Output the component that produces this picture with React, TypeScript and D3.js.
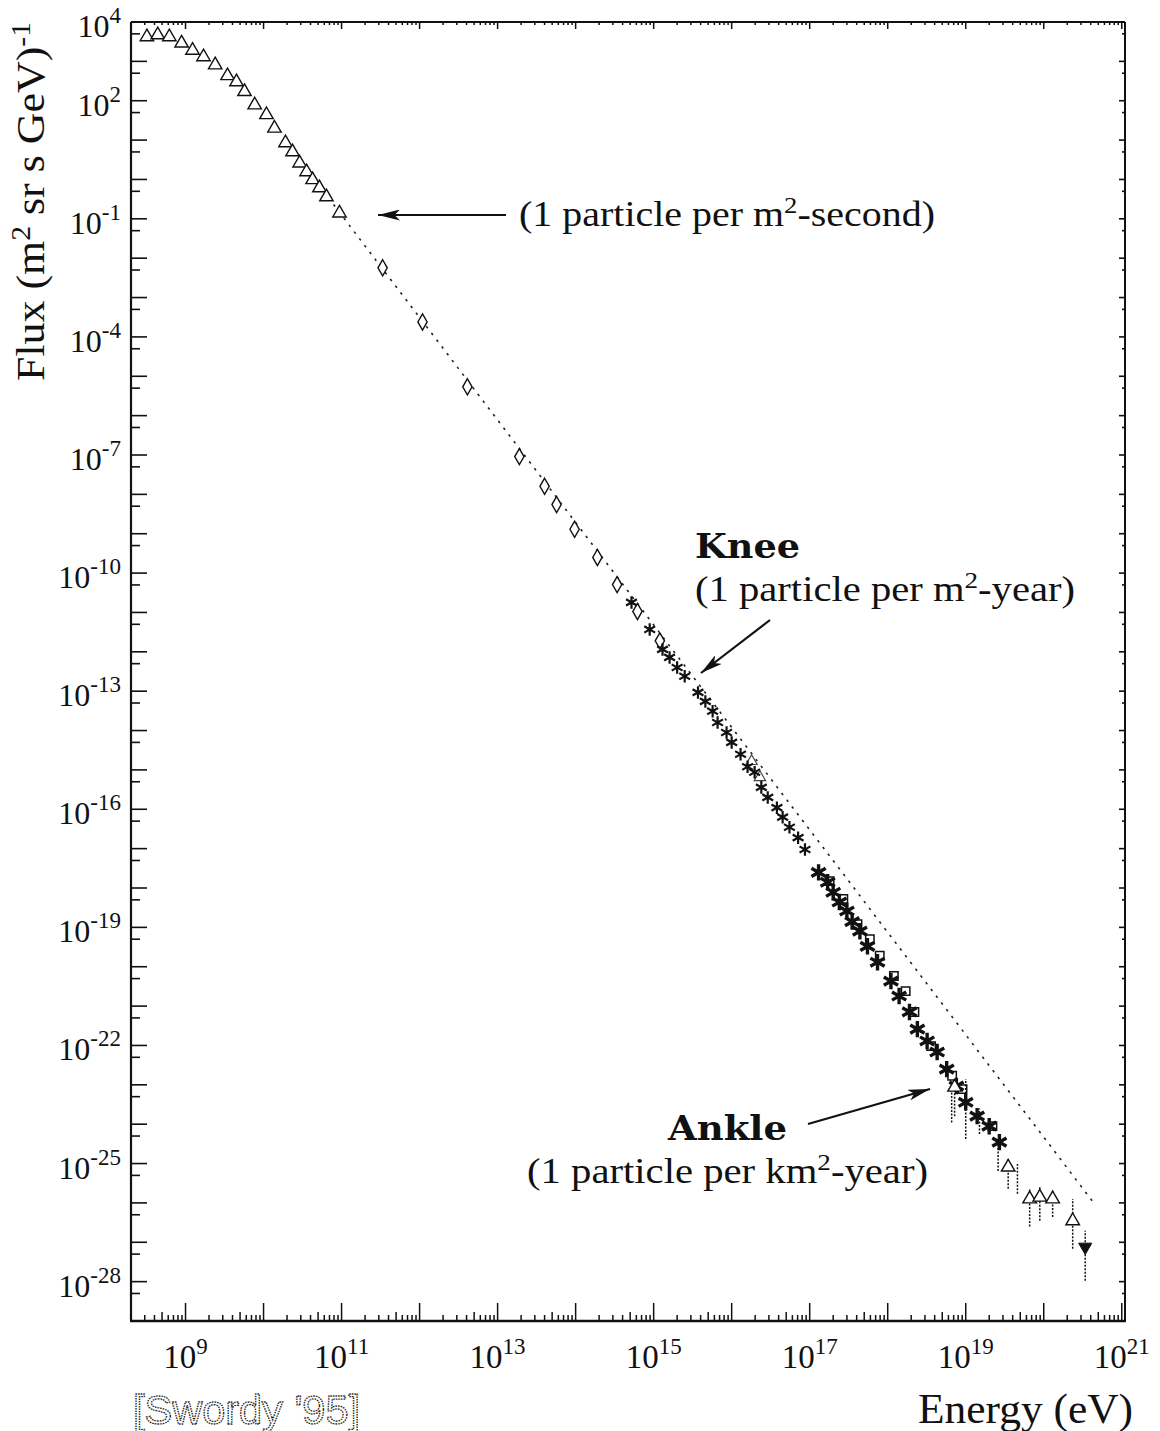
import React, { useRef, useEffect } from "react";
import * as d3 from "d3";

// all values: [energy (eV), flux (m^2 sr s GeV)^-1]
const directTriangles: number[][] = [
  [3.2e8, 4.2e3], [4.4e8, 4.7e3], [6.2e8, 4.2e3], [8.9e8, 2.9e3], [1.23e9, 1.9e3],
  [1.7e9, 1.3e3], [2.4e9, 8.1e2], [3.45e9, 4.3e2], [4.5e9, 3.0e2], [5.7e9, 1.7e2],
  [7.7e9, 78], [1.09e10, 44], [1.38e10, 20], [1.91e10, 8.5], [2.35e10, 5.0],
  [2.9e10, 2.6], [3.56e10, 1.56], [4.25e10, 0.98], [5.2e10, 0.61], [6.4e10, 0.36],
  [9.4e10, 0.14],
];

const diamonds: number[][] = [
  [3.36e11, 5.7e-3], [1.09e12, 2.4e-4], [4.1e12, 5.4e-6], [1.9e13, 9.1e-8],
  [4.0e13, 1.6e-8], [5.7e13, 5.5e-9], [9.7e13, 1.3e-9], [1.9e14, 2.5e-10],
  [3.4e14, 5.1e-11], [6.2e14, 1.06e-11], [1.2e15, 1.9e-12],
];

const kneeStars: number[][] = [
  [5.2e14, 1.8e-11], [8.9e14, 3.7e-12], [1.3e15, 1.15e-12], [1.6e15, 7.2e-13],
  [2.0e15, 4.0e-13], [2.5e15, 2.4e-13], [3.7e15, 9.3e-14], [4.6e15, 5.5e-14],
  [5.7e15, 3.1e-14], [6.6e15, 1.6e-14], [8.6e15, 8.9e-15], [1.0e16, 5.0e-15],
  [1.3e16, 2.5e-15], [1.6e16, 1.2e-15], [1.97e16, 8.7e-16], [2.4e16, 3.6e-16],
  [2.9e16, 2.0e-16], [3.8e16, 1.1e-16], [4.5e16, 6.3e-17], [5.5e16, 3.5e-17],
  [7.1e16, 1.9e-17], [8.7e16, 9.5e-18],
];

const kneeOpen: number[][] = [
  [1.8e16, 1.66e-15], [2.3e16, 6.5e-16],
];

const ankleStars: number[][] = [
  [1.3e17, 2.5e-18], [1.7e17, 1.4e-18], [2.0e17, 7.8e-19], [2.4e17, 4.4e-19],
  [3.0e17, 2.6e-19], [3.5e17, 1.4e-19], [4.4e17, 8.0e-20], [5.5e17, 3.3e-20],
  [7.4e17, 1.3e-20], [1.1e18, 4.3e-21], [1.4e18, 1.8e-21], [1.9e18, 7.1e-22],
  [2.4e18, 2.6e-22], [3.2e18, 1.3e-22], [4.3e18, 6.8e-23], [5.7e18, 2.5e-23],
  [7.6e18, 9.3e-24], [1.0e19, 3.6e-24], [1.4e19, 1.6e-24], [2.0e19, 8.9e-25],
  [2.7e19, 3.5e-25],
];

const ankleSquares: number[][] = [
  [1.8e17, 1.5e-18], [2.7e17, 5.3e-19], [4.1e17, 1.2e-19], [5.9e17, 5.0e-20],
  [7.9e17, 1.9e-20], [1.2e18, 5.8e-21], [1.7e18, 2.4e-21], [2.2e18, 7.1e-22],
  [3.6e18, 9.6e-23], [6.7e18, 1.7e-23], [9.1e18, 7.8e-24], [2.2e19, 8.9e-25],
];

// [energy, flux, lower, upper]
const highEnergy: number[][] = [
  [7.2e18, 8.7e-24, 1.6e-24, 1.4e-23],
  [3.5e19, 8.1e-26, 2.3e-26, 1.3e-25],
  [6.6e19, 1.26e-26, 2.5e-27, 2.3e-26],
  [8.9e19, 1.4e-26, 3.5e-27, 2.6e-26],
  [1.3e20, 1.26e-26, 4.4e-27, 2.1e-26],
  [2.35e20, 3.5e-27, 6.8e-28, 1.26e-26],
];

const upperPoint: number[][] = [[3.4e20, 7.6e-28, 1.05e-28, 1.95e-27]];

// [energy, lower, upper]
const extraBars: number[][] = [
  [6.6e18, 1.1e-24, 1.2e-23],
  [1.0e19, 4.2e-25, 1.4e-23],
  [1.5e19, 5.6e-25, 2.5e-24],
  [2.6e19, 6.5e-26, 3.2e-25],
  [4.6e19, 1.7e-26, 9.8e-26],
];

const powerLaw: number[][] = [[7.9e10, 0.23], [4.5e20, 9.3e-27]];

const xLabelExps = [9, 11, 13, 15, 17, 19, 21];
const yLabelExps = [4, 2, -1, -4, -7, -10, -13, -16, -19, -22, -25, -28];

const W = 1160;
const H = 1431;
const box = { left: 131, right: 1125, top: 22, bottom: 1321 };
const SERIF = "'Liberation Serif', 'Times New Roman', serif";
const INK = "#111";

type Part = [string, boolean];

export default function App() {
  const ref = useRef<SVGSVGElement | null>(null);

  useEffect(() => {
    document.body.style.margin = "0";
    const svg = d3.select(ref.current);
    svg.selectAll("*").remove();

    const x = d3.scaleLog().domain([2e8, 1.1e21]).range([box.left, box.right]);
    const y = d3.scaleLog().domain([1e-29, 1e4]).range([box.bottom, box.top]);

    svg.append("rect").attr("width", W).attr("height", H).attr("fill", "#fff");

    const defs = svg.append("defs");
    defs
      .append("marker")
      .attr("id", "head")
      .attr("viewBox", "0 0 20 10")
      .attr("refX", 20)
      .attr("refY", 5)
      .attr("markerWidth", 22)
      .attr("markerHeight", 11)
      .attr("markerUnits", "userSpaceOnUse")
      .attr("orient", "auto")
      .append("path")
      .attr("d", "M0,0 L20,5 L0,10 L5,5 Z")
      .attr("fill", INK);

    // frame
    const frame = svg.append("g").attr("stroke", INK).attr("fill", "none");
    frame.append("line").attr("x1", box.left).attr("x2", box.left).attr("y1", box.top).attr("y2", box.bottom).attr("stroke-width", 2.2);
    frame.append("line").attr("x1", box.left - 1).attr("x2", box.right + 1).attr("y1", box.bottom).attr("y2", box.bottom).attr("stroke-width", 2.4);
    frame.append("line").attr("x1", box.left).attr("x2", box.right).attr("y1", box.top).attr("y2", box.top).attr("stroke-width", 2);
    frame.append("line").attr("x1", box.right).attr("x2", box.right).attr("y1", box.top).attr("y2", box.bottom).attr("stroke-width", 2);

    // x ticks
    const xt = svg.append("g").attr("stroke", INK).attr("stroke-width", 1.5);
    for (let e = 8; e <= 21; e++) {
      for (let m = 1; m <= 9; m++) {
        const v = m * Math.pow(10, e);
        if (v < 2e8 || v > 1.1e21) continue;
        const px = x(v);
        const len = m === 1 ? 18 : m === 5 ? 9 : 6;
        xt.append("line").attr("x1", px).attr("x2", px).attr("y1", box.bottom).attr("y2", box.bottom - len);
        const tl = m === 1 ? 7 : 3;
        xt.append("line").attr("x1", px).attr("x2", px).attr("y1", box.top).attr("y2", box.top + tl);
      }
    }

    // y ticks
    const yt = svg.append("g").attr("stroke", INK).attr("stroke-width", 1.6);
    for (let e = -29; e <= 4; e++) {
      const py = y(Math.pow(10, e));
      yt.append("line").attr("x1", box.left).attr("x2", box.left + 16).attr("y1", py).attr("y2", py);
      yt.append("line").attr("x1", box.right).attr("x2", box.right - 6).attr("y1", py).attr("y2", py);
      const half = 5 * Math.pow(10, e - 1);
      if (half > 1e-29) {
        const ph = y(half);
        yt.append("line").attr("x1", box.left).attr("x2", box.left + 9).attr("y1", ph).attr("y2", ph);
        yt.append("line").attr("x1", box.right).attr("x2", box.right - 3).attr("y1", ph).attr("y2", ph);
      }
    }

    const powText = (g: any, exp: number) => {
      g.append("tspan").text("10");
      g.append("tspan").attr("dy", -14).attr("font-size", 23).text(String(exp));
    };

    svg
      .append("g")
      .selectAll("text")
      .data(xLabelExps)
      .join("text")
      .attr("x", (d) => x(Math.pow(10, d)))
      .attr("y", 1368)
      .attr("text-anchor", "middle")
      .attr("font-family", SERIF)
      .attr("font-size", 33)
      .attr("fill", INK)
      .each(function (d) {
        powText(d3.select(this), d);
      });

    svg
      .append("g")
      .selectAll("text")
      .data(yLabelExps)
      .join("text")
      .attr("x", 121)
      .attr("y", (d) => y(Math.pow(10, d)) + 15)
      .attr("text-anchor", "end")
      .attr("font-family", SERIF)
      .attr("font-size", 32)
      .attr("fill", INK)
      .each(function (d) {
        powText(d3.select(this), d);
      });

    const rich = (
      parts: Part[],
      px: number,
      py: number,
      size: number,
      width: number,
      opts: { family?: string; weight?: string; rotate?: boolean } = {}
    ) => {
      const t = svg
        .append("text")
        .attr("font-family", opts.family || SERIF)
        .attr("font-size", size)
        .attr("font-weight", opts.weight || "normal")
        .attr("fill", INK)
        .attr("textLength", width)
        .attr("lengthAdjust", "spacingAndGlyphs");
      if (opts.rotate) t.attr("transform", `translate(${px},${py}) rotate(-90)`);
      else t.attr("x", px).attr("y", py);
      let raised = 0;
      parts.forEach(([s, sup]) => {
        const sp = t.append("tspan").text(s);
        if (sup) {
          const lift = Math.round(size * 0.36);
          sp.attr("font-size", Math.round(size * 0.68)).attr("dy", -lift);
          raised = lift;
        } else if (raised) {
          sp.attr("dy", raised);
          raised = 0;
        }
      });
      return t;
    };

    // dashed power law
    const line = d3
      .line<number[]>()
      .x((d) => x(d[0]))
      .y((d) => y(d[1]));
    svg
      .append("path")
      .attr("d", line(powerLaw))
      .attr("fill", "none")
      .attr("stroke", "#222")
      .attr("stroke-width", 1.6)
      .attr("stroke-dasharray", "2.5 6");

    const pos = (d: number[]) => `translate(${x(d[0])},${y(d[1])})`;

    // error bars
    const bars = svg.append("g").attr("stroke", INK).attr("stroke-width", 1.5).attr("stroke-dasharray", "2 1.5");
    extraBars.forEach((d) => {
      bars.append("line").attr("x1", x(d[0])).attr("x2", x(d[0])).attr("y1", y(d[1])).attr("y2", y(d[2]));
    });
    highEnergy.concat(upperPoint).forEach((d) => {
      bars.append("line").attr("x1", x(d[0])).attr("x2", x(d[0])).attr("y1", y(d[2])).attr("y2", y(d[3]));
    });

    svg
      .append("g")
      .selectAll("path")
      .data(directTriangles)
      .join("path")
      .attr("d", d3.symbol().type(d3.symbolTriangle).size(78)())
      .attr("transform", pos)
      .attr("fill", "#fff")
      .attr("stroke", INK)
      .attr("stroke-width", 1.4);

    svg
      .append("g")
      .selectAll("path")
      .data(diamonds)
      .join("path")
      .attr("d", d3.symbol().type(d3.symbolDiamond).size(75)())
      .attr("transform", pos)
      .attr("fill", "#fff")
      .attr("stroke", INK)
      .attr("stroke-width", 1.4);

    svg
      .append("g")
      .selectAll("path")
      .data(kneeOpen)
      .join("path")
      .attr("d", d3.symbol().type(d3.symbolTriangle).size(55)())
      .attr("transform", pos)
      .attr("fill", "none")
      .attr("stroke", "#444")
      .attr("stroke-width", 1.2);

    svg
      .append("g")
      .selectAll("path")
      .data(kneeStars)
      .join("path")
      .attr("d", d3.symbol().type(d3.symbolAsterisk).size(110)())
      .attr("transform", pos)
      .attr("fill", "none")
      .attr("stroke", INK)
      .attr("stroke-width", 2.2);

    svg
      .append("g")
      .selectAll("path")
      .data(ankleSquares)
      .join("path")
      .attr("d", d3.symbol().type(d3.symbolSquare).size(70)())
      .attr("transform", pos)
      .attr("fill", "none")
      .attr("stroke", INK)
      .attr("stroke-width", 1.5);

    svg
      .append("g")
      .selectAll("path")
      .data(ankleStars)
      .join("path")
      .attr("d", d3.symbol().type(d3.symbolAsterisk).size(190)())
      .attr("transform", pos)
      .attr("fill", "none")
      .attr("stroke", INK)
      .attr("stroke-width", 3.4);

    svg
      .append("g")
      .selectAll("path")
      .data(highEnergy)
      .join("path")
      .attr("d", d3.symbol().type(d3.symbolTriangle).size(80)())
      .attr("transform", pos)
      .attr("fill", "#fff")
      .attr("stroke", INK)
      .attr("stroke-width", 1.4);

    svg
      .append("g")
      .selectAll("path")
      .data(upperPoint)
      .join("path")
      .attr("d", d3.symbol().type(d3.symbolTriangle).size(75)())
      .attr("transform", (d) => pos(d) + " rotate(180)")
      .attr("fill", INK)
      .attr("stroke", INK)
      .attr("stroke-width", 1);

    // annotation arrows
    const arrows = svg.append("g").attr("stroke", INK).attr("stroke-width", 2.2).attr("fill", "none");
    arrows.append("line").attr("x1", 506).attr("y1", 215).attr("x2", 378).attr("y2", 215).attr("marker-end", "url(#head)");
    arrows.append("line").attr("x1", 770).attr("y1", 620).attr("x2", 701).attr("y2", 673).attr("marker-end", "url(#head)");
    arrows.append("line").attr("x1", 808).attr("y1", 1124).attr("x2", 930).attr("y2", 1089).attr("marker-end", "url(#head)");

    rich([["(1 particle per m", false], ["2", true], ["-second)", false]], 519, 226, 36, 416);
    rich([["Knee", false]], 695, 558, 34, 105, { family: "'DejaVu Serif', serif", weight: "bold" });
    rich([["(1 particle per m", false], ["2", true], ["-year)", false]], 695, 601, 36, 380);
    rich([["Ankle", false]], 668, 1140, 34, 119, { family: "'DejaVu Serif', serif", weight: "bold" });
    rich([["(1 particle per km", false], ["2", true], ["-year)", false]], 527, 1183, 36, 401);

    rich([["Flux (m", false], ["2", true], [" sr s GeV)", false], ["-1", true]], 44, 381, 40, 359, { rotate: true });
    rich([["Energy (eV)", false]], 918, 1423, 42, 215);

    svg
      .append("text")
      .attr("x", 133)
      .attr("y", 1424)
      .attr("font-family", "'Liberation Sans', Arial, sans-serif")
      .attr("font-size", 40)
      .attr("textLength", 227)
      .attr("lengthAdjust", "spacingAndGlyphs")
      .attr("fill", "#fff")
      .attr("stroke", "#222")
      .attr("stroke-width", 1.3)
      .attr("stroke-dasharray", "1.5 1")
      .text("[Swordy '95]");
  }, []);

  return (
    <svg
      ref={ref}
      width={W}
      height={H}
      style={{ display: "block", position: "absolute", left: 0, top: 0 }}
    />
  );
}
